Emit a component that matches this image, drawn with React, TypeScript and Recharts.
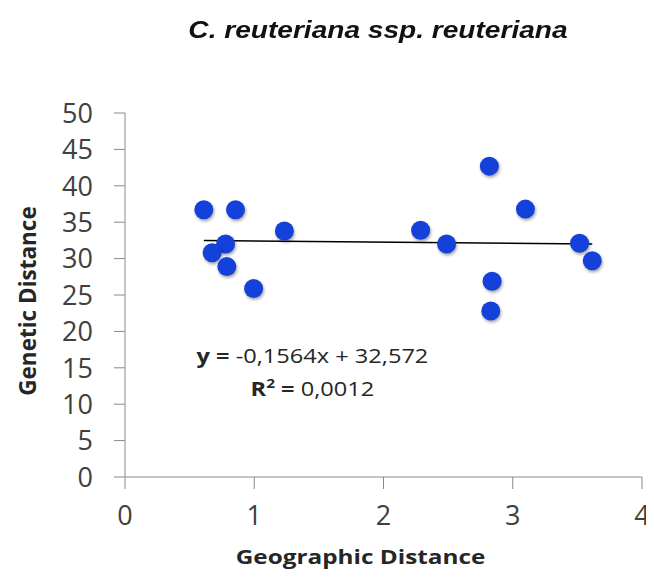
import React from "react";
import {
  ScatterChart,
  Scatter,
  XAxis,
  YAxis,
  ReferenceLine,
  ReferenceDot,
} from "recharts";

const geoDistance = [0.61, 0.855, 1.233, 0.778, 0.674, 0.788, 0.995, 2.819, 3.098, 2.287, 2.488, 3.517, 3.615, 2.84, 2.83];
const genDistance = [36.7, 36.7, 33.8, 32.0, 30.8, 28.9, 25.9, 42.7, 36.8, 33.9, 32.0, 32.1, 29.7, 26.9, 22.8];
const xTicks = [0, 1, 2, 3, 4];
const yTicks = [0, 5, 10, 15, 20, 25, 30, 35, 40, 45, 50];
const slope = -0.1564;
const intercept = 32.572;
const equationText = "-0,1564x + 32,572";
const r2Text = "0,0012";

const points = geoDistance.map((x, i) => ({ x, y: genDistance[i] }));
const xMin = Math.min(...geoDistance);
const xMax = Math.max(...geoDistance);
const trend = [
  { x: xMin, y: slope * xMin + intercept },
  { x: xMax, y: slope * xMax + intercept },
];

const FONT = "'Open Sans', sans-serif";
const TICK_COLOR = "#404040";
const AXIS_COLOR = "#8a8a8a";
const SX = 1.28;

const Dot = (props: any) => {
  const { cx, cy } = props;
  return (
    <circle
      cx={cx}
      cy={cy}
      r={9.5}
      fill="#1441d9"
      style={{ filter: "drop-shadow(1px 2px 1.5px rgba(0,0,0,0.35))" }}
    />
  );
};

const YTick = (props: any) => {
  const { x, y, payload } = props;
  return (
    <text
      x={x}
      y={y}
      dy="0.36em"
      textAnchor="end"
      fontFamily={FONT}
      fontSize={27}
      fill={TICK_COLOR}
    >
      {payload.value}
    </text>
  );
};

const XTick = (props: any) => {
  const { x, y, payload } = props;
  return (
    <text
      x={x}
      y={y}
      dy="0.74em"
      textAnchor="middle"
      fontFamily={FONT}
      fontSize={27}
      fill={TICK_COLOR}
    >
      {payload.value}
    </text>
  );
};

const EquationLabel = (props: any) => {
  const { viewBox } = props;
  const cx = viewBox.x + (viewBox.width || 0) / 2;
  const cy = viewBox.y + (viewBox.height || 0) / 2;
  return (
    <g transform={`translate(${cx},${cy}) scale(1.18,1)`}>
      <text x={0} y={0} textAnchor="middle" fontFamily={FONT} fontSize={20} fill="#262626">
        <tspan fontWeight="bold">y = </tspan>
        <tspan>{equationText}</tspan>
      </text>
      <text x={0} y={33} textAnchor="middle" fontFamily={FONT} fontSize={20} fill="#262626">
        <tspan fontWeight="bold">R</tspan>
        <tspan fontWeight="bold" fontSize={13} dy={-8}>2</tspan>
        <tspan fontWeight="bold" dy={8}> = </tspan>
        <tspan>{r2Text}</tspan>
      </text>
    </g>
  );
};

const YTitle = (props: any) => {
  const { viewBox } = props;
  const cy = viewBox.y + viewBox.height / 2 + 6;
  return (
    <text
      x={19}
      y={cy}
      transform={`rotate(-90, 19, ${cy})`}
      textAnchor="middle"
      dominantBaseline="central"
      fontFamily={FONT}
      fontWeight="bold"
      fontSize={22.5}
      fill="#262626"
    >
      Genetic Distance
    </text>
  );
};

const XTitle = (props: any) => {
  const { viewBox } = props;
  const cx = viewBox.x + viewBox.width / 2 - 23;
  return (
    <g transform={`translate(${cx},549) scale(${SX},1)`}>
      <text
        x={0}
        y={0}
        textAnchor="middle"
        dominantBaseline="central"
        fontFamily={FONT}
        fontWeight="bold"
        fontSize={19}
        fill="#262626"
      >
        Geographic Distance
      </text>
    </g>
  );
};

export default function App() {
  return (
    <div style={{ position: "relative", width: 646, height: 563 }}>
      <div
        style={{
          position: "absolute",
          left: 370 - 200,
          width: 400,
          top: 8,
          textAlign: "center",
          fontFamily: "'Liberation Sans', Arial, sans-serif",
          fontWeight: "bold",
          fontStyle: "italic",
          fontSize: 24,
          color: "#111",
          transform: "scaleX(1.17)",
          transformOrigin: "center",
          whiteSpace: "nowrap",
        }}
      >
        C. reuteriana ssp. reuteriana
      </div>
      <ScatterChart
        width={646}
        height={563}
        margin={{ top: 105, right: 12, left: 0, bottom: 0 }}
      >
        <XAxis
          type="number"
          dataKey="x"
          domain={[0, 4]}
          ticks={xTicks}
          allowDataOverflow
          height={94}
          tickSize={12}
          tickMargin={16}
          stroke={AXIS_COLOR}
          tick={<XTick />}
          label={<XTitle />}
        />
        <YAxis
          type="number"
          dataKey="y"
          domain={[0, 50]}
          ticks={yTicks}
          allowDataOverflow
          width={117}
          tickSize={11}
          tickMargin={21}
          stroke={AXIS_COLOR}
          tick={<YTick />}
          label={<YTitle />}
        />
        <Scatter data={points} shape={<Dot />} isAnimationActive={false} />
        <ReferenceLine
          segment={trend}
          stroke="#000"
          strokeWidth={1.5}
          ifOverflow="visible"
        />
        <ReferenceDot
          x={1.45}
          y={15.6}
          r={0}
          fill="none"
          stroke="none"
          label={<EquationLabel />}
        />
      </ScatterChart>
    </div>
  );
}
